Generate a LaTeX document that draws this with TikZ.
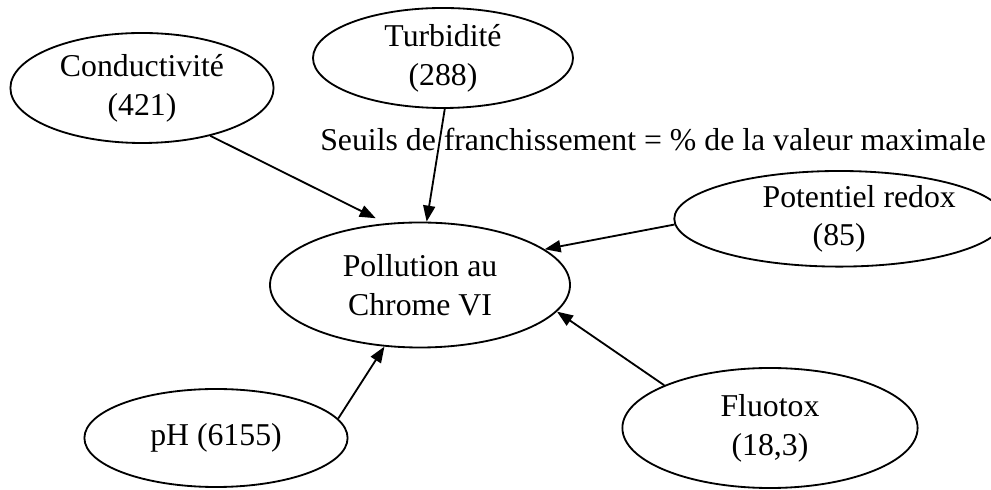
\documentclass[tikz,border=0pt]{standalone}
\usepackage{fontspec}
\setmainfont{Liberation Serif}
\usepackage{tikz}
\usetikzlibrary{shapes.geometric, arrows.meta, positioning}

\begin{document}
\begin{tikzpicture}[
    factor/.style={ellipse, draw=black, line width=0.65pt, inner sep=0pt, align=center, font=\fontsize{11.3}{13.8}\selectfont},
    arrow/.style={-{Triangle[length=2mm, width=1.5mm]}, line width=0.65pt, black}
]
\useasboundingbox (0,0) rectangle (12.3875,6.125);

% Target
\node[factor, minimum width=3.75cm, minimum height=1.5625cm] (pollution) at (5.25,2.5625) {Pollution au\\Chrome VI};

% Parameters
\node[factor, minimum width=3.29cm, minimum height=1.375cm] (conduct) at (1.775,5.025) {Conductivit\'e\\(421)};
\node[factor, minimum width=3.25cm, minimum height=1.25cm] (turbid) at (5.5375,5.4) {Turbidit\'e\\(288)};
\node[factor, minimum width=3.775cm, minimum height=1.0625cm] (redox) at (10.49,3.39) {\hspace*{0.5cm}Potentiel redox\\(85)};
\node[factor, minimum width=3.29cm, minimum height=1.225cm] (ph) at (2.7,0.65) {pH (6155)};
\node[factor, minimum width=3.69cm, minimum height=1.5cm] (fluotox) at (9.625,0.775) {Fluotox\\(18,3)};

% Arrows
\draw[arrow, shorten >=0.14cm] (conduct.-35) -- (pollution.119);
\draw[arrow] (turbid.-88) -- (pollution.84);
\draw[arrow] (redox.182) -- (pollution.16);
\draw[arrow] (ph.9) -- (pollution.240);
\draw[arrow] (fluotox.158) -- (pollution.-11);

% Note
\node[font=\fontsize{11.3}{13.8}\selectfont] (seuils) at (8.1625,4.375) {Seuils de franchissement = \% de la valeur maximale};
\end{tikzpicture}
\end{document}
